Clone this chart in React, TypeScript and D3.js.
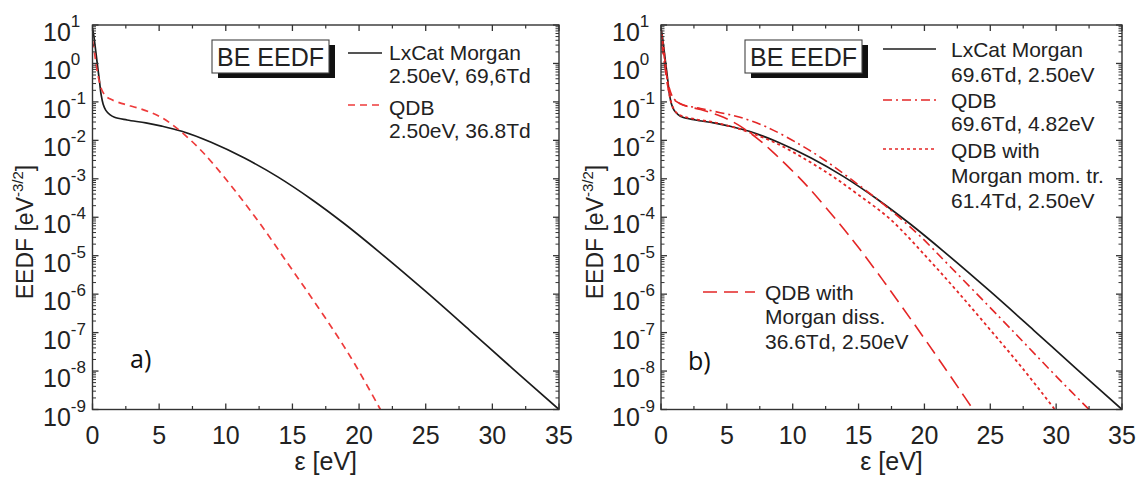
import React from 'react';
import * as d3 from 'd3';

// ---------- data (energy in eV, EEDF as log10 value in eV^-3/2) ----------
const morganE = [0, 0.1, 0.25, 0.4, 0.53, 0.65, 0.8, 1.0, 1.3, 1.65, 2.6, 4, 5.2, 6.7, 8.9, 11.4, 13.9, 16.5, 18.9, 21.5, 25, 28.3, 31.5, 35];
const morganLog = [0.92, 0.72, 0.3, -0.12, -0.48, -0.82, -1.06, -1.22, -1.33, -1.4, -1.47, -1.547, -1.63, -1.765, -2.05, -2.46, -2.95, -3.55, -4.17, -4.9, -5.93, -6.94, -7.93, -9.0];

const qdbAE = [0, 0.15, 0.3, 0.5, 0.7, 1.0, 1.3, 2.0, 2.6, 3.5, 4.4, 5.1, 5.9, 6.9, 8.0, 8.9, 10.7, 12.7, 14.65, 16.45, 18.2, 19.7, 21.6];
const qdbALog = [0.6, 0.28, -0.09, -0.45, -0.69, -0.85, -0.92, -1.02, -1.08, -1.17, -1.28, -1.39, -1.57, -1.85, -2.21, -2.55, -3.31, -4.23, -5.2, -6.1, -7.0, -7.83, -9.0];

const qdbBE = [0, 0.2, 0.4, 0.6, 0.9, 1.3, 1.7, 3, 4.5, 6, 8, 10.5, 12.5, 14.5, 16.6, 18, 19.7, 22, 25.7, 28, 30.1, 32.5];
const qdbBLog = [0.85, 0.3, -0.25, -0.6, -0.88, -1.02, -1.08, -1.17, -1.28, -1.4, -1.65, -2.1, -2.53, -3.03, -3.58, -3.98, -4.5, -5.3, -6.6, -7.42, -8.17, -9.0];

const momE = [0, 0.2, 0.4, 0.6, 0.8, 1.0, 1.3, 1.7, 2.6, 4, 5.2, 6.7, 8.9, 11.1, 13, 15, 17.4, 20.2, 22.5, 25, 27.5, 29.9];
const momLog = [0.9, 0.4, -0.2, -0.75, -1.05, -1.2, -1.32, -1.38, -1.45, -1.53, -1.63, -1.79, -2.1, -2.52, -2.93, -3.42, -4.05, -5.05, -5.93, -6.93, -7.95, -9.0];

const dissE = [0, 0.2, 0.4, 0.6, 0.9, 1.67, 3, 4.5, 5.8, 7.3, 8.5, 9.8, 11.1, 13.6, 15.1, 17, 19.1, 21, 22.7, 23.7];
const dissLog = [0.6, 0.15, -0.35, -0.72, -0.92, -1.08, -1.2, -1.365, -1.586, -1.946, -2.306, -2.735, -3.19, -4.19, -4.835, -5.709, -6.717, -7.648, -8.498, -9.0];

const xMajorTicks = [0, 5, 10, 15, 20, 25, 30, 35];
const yExponents = [1, 0, -1, -2, -3, -4, -5, -6, -7, -8, -9];

const BLACK = '#1c1c1c';
const RED_A = '#ee3b3b';
const RED_B = '#e42626';
const AXIS = '#333333';
const FONT = '"Liberation Sans", Arial, sans-serif';

type Series = { e: number[]; lg: number[]; color: string; dash?: string; width: number };

type PanelProps = {
  x0: number; x1: number; y0: number; y1: number;
  labelX: number; titleX: number; series: Series[]; id: string;
};

function Panel({ x0, x1, y0, y1, labelX, titleX, series, id }: PanelProps) {
  const xs = d3.scaleLinear().domain([0, 35]).range([x0, x1]);
  const ys = d3.scaleLog().domain([1e-9, 10]).range([y1, y0]);
  const minorX = d3.range(0, 35.01, 2.5).filter((v) => v % 5 !== 0);
  const minorY: number[] = [];
  for (let p = -9; p < 1; p++) for (let m = 2; m < 10; m++) minorY.push(m * Math.pow(10, p));

  const line = d3
    .line<[number, number]>()
    .x((d) => xs(d[0]))
    .y((d) => ys(Math.pow(10, d[1])))
    .curve(d3.curveCatmullRom.alpha(0.5));

  const majorLen = 6;
  const minorLen = 3.5;
  return (
    <g>
      <defs>
        <clipPath id={id}>
          <rect x={x0} y={y0} width={x1 - x0} height={y1 - y0} />
        </clipPath>
      </defs>
      <g clipPath={`url(#${id})`}>
        {series.map((s, i) => (
          <path
            key={i}
            d={line(s.e.map((v, j) => [v, s.lg[j]] as [number, number])) || ''}
            fill="none"
            stroke={s.color}
            strokeWidth={s.width}
            strokeDasharray={s.dash}
          />
        ))}
      </g>
      {/* frame */}
      <rect x={x0} y={y0} width={x1 - x0} height={y1 - y0} fill="none" stroke={AXIS} strokeWidth={1.4} />
      {/* x ticks */}
      {xMajorTicks.map((t) => (
        <g key={'xm' + t}>
          <line x1={xs(t)} x2={xs(t)} y1={y1} y2={y1 - majorLen} stroke={AXIS} strokeWidth={1.3} />
          <line x1={xs(t)} x2={xs(t)} y1={y0} y2={y0 + majorLen} stroke={AXIS} strokeWidth={1.3} />
          <text x={xs(t)} y={y1 + 34} textAnchor="middle" fontSize={25} fontFamily={FONT} fill="#222">
            {t}
          </text>
        </g>
      ))}
      {minorX.map((t) => (
        <g key={'xn' + t}>
          <line x1={xs(t)} x2={xs(t)} y1={y1} y2={y1 - minorLen} stroke={AXIS} strokeWidth={1.2} />
          <line x1={xs(t)} x2={xs(t)} y1={y0} y2={y0 + minorLen} stroke={AXIS} strokeWidth={1.2} />
        </g>
      ))}
      {/* y ticks */}
      {yExponents.map((p) => {
        const y = ys(Math.pow(10, p));
        return (
          <g key={'ym' + p}>
            <line x1={x0} x2={x0 + majorLen} y1={y} y2={y} stroke={AXIS} strokeWidth={1.3} />
            <line x1={x1} x2={x1 - majorLen} y1={y} y2={y} stroke={AXIS} strokeWidth={1.3} />
            <text x={labelX} y={y + 16} textAnchor="start" fontSize={25} fontFamily={FONT} fill="#222">
              10
              <tspan dy={-14} fontSize={17}>
                {p}
              </tspan>
            </text>
          </g>
        );
      })}
      {minorY.map((v, i) => (
        <g key={'yn' + i}>
          <line x1={x0} x2={x0 + minorLen} y1={ys(v)} y2={ys(v)} stroke={AXIS} strokeWidth={1} />
          <line x1={x1} x2={x1 - minorLen} y1={ys(v)} y2={ys(v)} stroke={AXIS} strokeWidth={1} />
        </g>
      ))}
      {/* axis titles */}
      <text
        transform={`translate(${titleX},232) rotate(-90)`}
        textAnchor="middle"
        fontSize={23}
        fontFamily={FONT}
        fill="#222"
      >
        EEDF [eV
        <tspan dy={-10} fontSize={15}>
          -3/2
        </tspan>
        <tspan dy={10}>]</tspan>
      </text>
      <text x={(x0 + x1) / 2} y={470} textAnchor="middle" fontSize={25} fontFamily={FONT} fill="#222">
        ε [eV]
      </text>
    </g>
  );
}

function TitleBox({ x }: { x: number }) {
  return (
    <g>
      <rect x={x + 6} y={45} width={117} height={33} fill="#111" />
      <rect x={x} y={40} width={117} height={33} fill="#fff" stroke="#444" strokeWidth={1.1} />
      <text x={x + 58.5} y={66} textAnchor="middle" fontSize={25} fontFamily={FONT} fill="#222">
        BE EEDF
      </text>
    </g>
  );
}

function LegendItem({
  lx0, lx1, ly, tx, lines, baselines, color, dash,
}: {
  lx0: number; lx1: number; ly: number; tx: number; lines: string[]; baselines: number[]; color: string; dash?: string;
}) {
  return (
    <g>
      <line x1={lx0} x2={lx1} y1={ly} y2={ly} stroke={color} strokeWidth={1.6} strokeDasharray={dash} />
      {lines.map((t, i) => (
        <text key={i} x={tx} y={baselines[i]} fontSize={21} fontFamily={FONT} fill="#222">
          {t}
        </text>
      ))}
    </g>
  );
}

export default function App() {
  const leftSeries: Series[] = [
    { e: morganE, lg: morganLog, color: BLACK, width: 1.7 },
    { e: qdbAE, lg: qdbALog, color: RED_A, dash: '7,5', width: 1.7 },
  ];
  const rightSeries: Series[] = [
    { e: morganE, lg: morganLog, color: BLACK, width: 1.7 },
    { e: qdbBE, lg: qdbBLog, color: RED_B, dash: '9,4,2,4', width: 1.6 },
    { e: momE, lg: momLog, color: RED_B, dash: '3,3', width: 1.8 },
    { e: dissE, lg: dissLog, color: RED_B, dash: '14,7', width: 1.6 },
  ];
  return (
    <svg
      width={1143}
      height={479}
      style={{ position: 'absolute', left: 0, top: 0, background: '#fff', display: 'block' }}
    >
      <rect x={0} y={0} width={1143} height={479} fill="#fff" />
      <Panel x0={92.5} x1={559} y0={25} y1={409.5} labelX={43} titleX={33} series={leftSeries} id="clipA" />
      <Panel x0={661} x1={1122} y0={25} y1={409.5} labelX={612} titleX={603} series={rightSeries} id="clipB" />

      <TitleBox x={212} />
      <LegendItem lx0={348} lx1={382} ly={53} tx={389} lines={['LxCat Morgan', '2.50eV, 69,6Td']} baselines={[60, 83]} color={BLACK} />
      <LegendItem lx0={348} lx1={382} ly={105} tx={389} lines={['QDB', '2.50eV, 36.8Td']} baselines={[115, 138]} color={RED_A} dash="7,5" />
      <text x={130} y={368} fontSize={25} fontFamily='"Open Sans", sans-serif' fill="#111">
        a)
      </text>

      <TitleBox x={745} />
      <LegendItem lx0={883} lx1={936} ly={49} tx={951} lines={['LxCat Morgan', '69.6Td, 2.50eV']} baselines={[57, 82]} color={BLACK} />
      <LegendItem lx0={883} lx1={936} ly={100} tx={951} lines={['QDB', '69.6Td, 4.82eV']} baselines={[108, 131]} color={RED_B} dash="9,4,2,4" />
      <LegendItem lx0={883} lx1={936} ly={149} tx={951} lines={['QDB with', 'Morgan mom. tr.', '61.4Td, 2.50eV']} baselines={[158, 183, 208]} color={RED_B} dash="3,3" />
      <LegendItem lx0={703} lx1={755} ly={292} tx={765} lines={['QDB with', 'Morgan diss.', '36.6Td, 2.50eV']} baselines={[300, 324, 349]} color={RED_B} dash="14,7" />
      <text x={688} y={370} fontSize={25} fontFamily='"Open Sans", sans-serif' fill="#111">
        b)
      </text>
    </svg>
  );
}
